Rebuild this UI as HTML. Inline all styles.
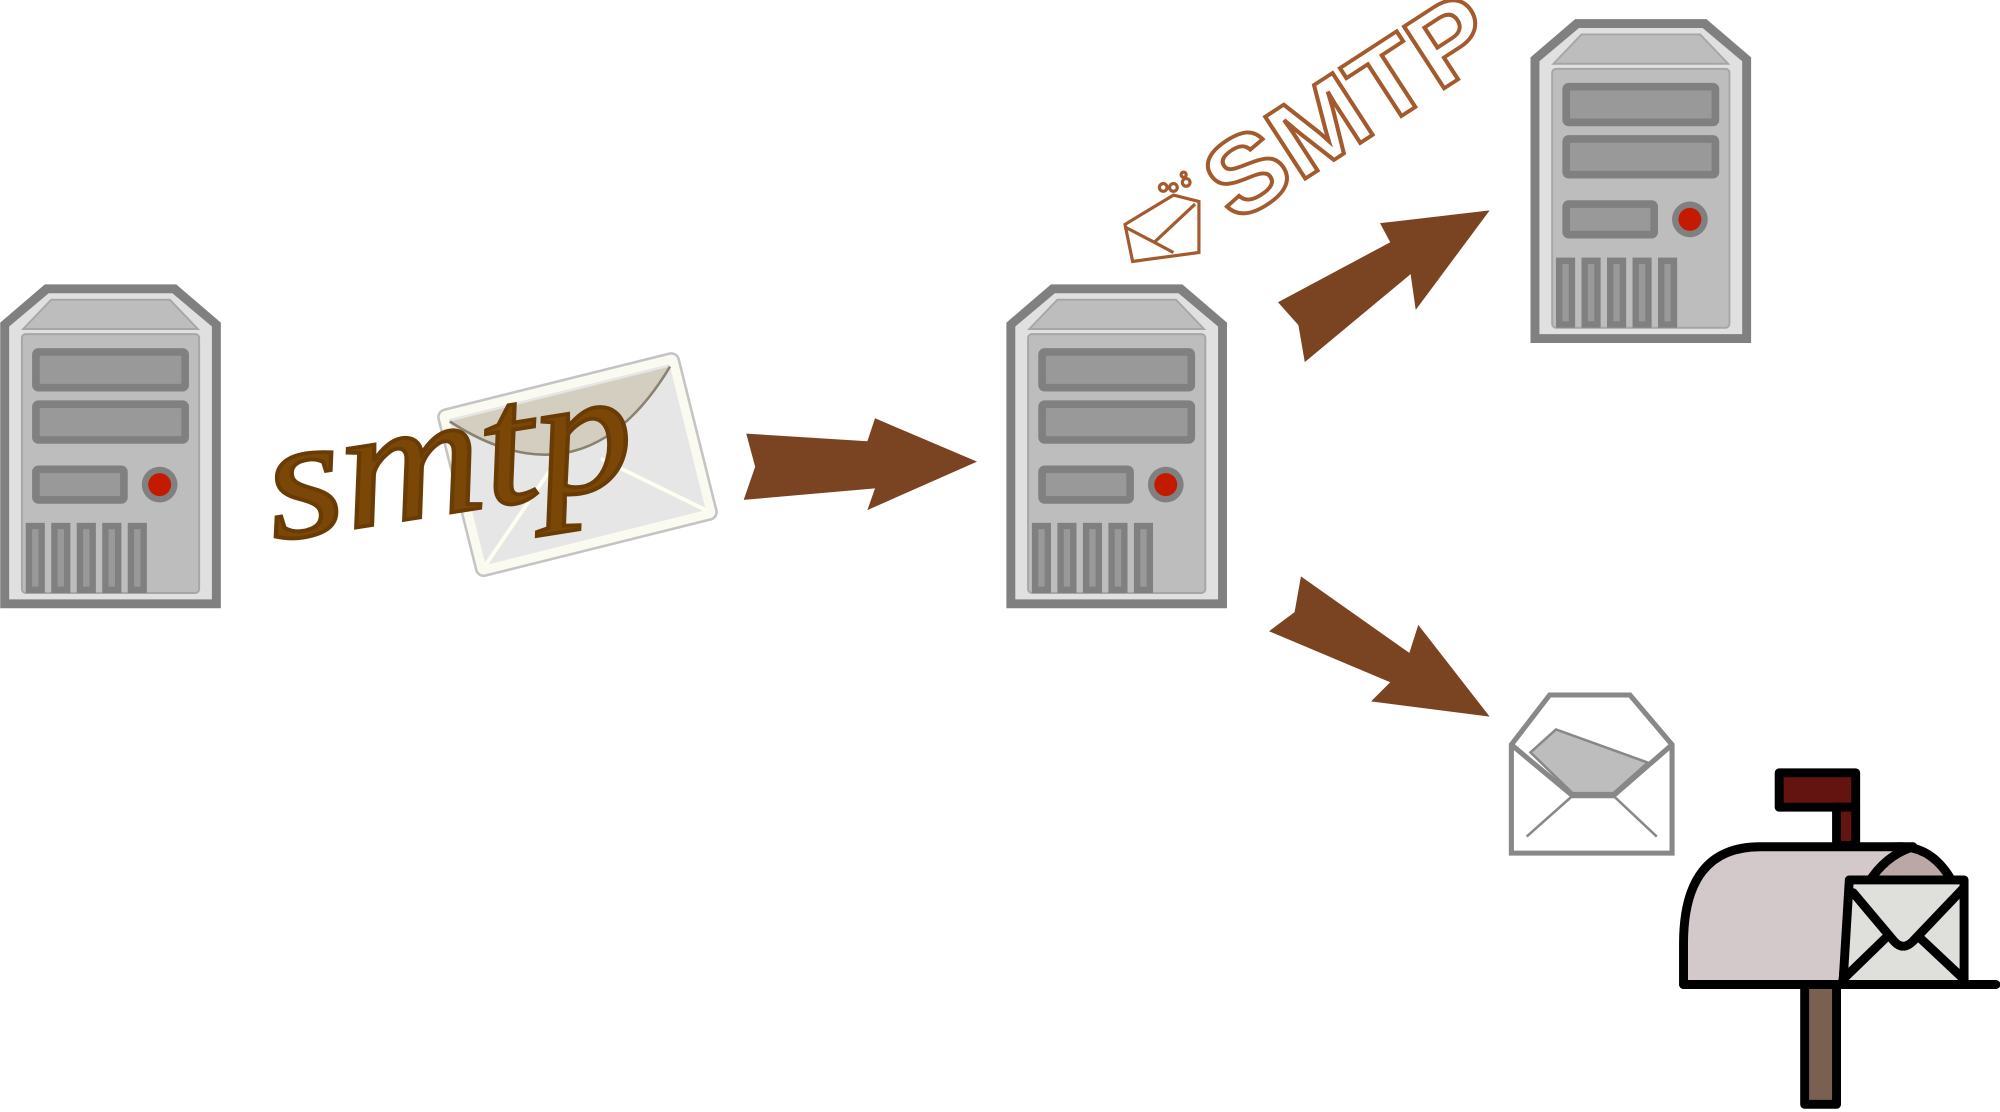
<!DOCTYPE html>
<html><head><style>html,body{margin:0;padding:0;background:#fff;width:2000px;height:1112px;overflow:hidden}</style></head>
<body>
<svg width="2000" height="1112" viewBox="0 0 1568 872" xmlns="http://www.w3.org/2000/svg">
<defs>
<g id="srv">
<polygon points="0,30 35,0 138,0 173,30 173,254 0,254" fill="#808080"/>
<polygon points="7,33 38,7 135,7 166,33 166,247 7,247" fill="#e0e0e0"/>
<polygon points="40,12 133,12 155,35 18,35" fill="#bdbdbd" stroke="#a6a6a6" stroke-width="1.5"/>
<rect x="17" y="39" width="139" height="203" rx="3" fill="#bdbdbd" stroke="#a6a6a6" stroke-width="1.5"/>
<rect x="25" y="50" width="123" height="34" rx="5" fill="#808080"/>
<rect x="31" y="56" width="111" height="22" fill="#999"/>
<rect x="25" y="91" width="123" height="34" rx="5" fill="#808080"/>
<rect x="31" y="97" width="111" height="22" fill="#999"/>
<rect x="25" y="142" width="75" height="30" rx="5" fill="#808080"/>
<rect x="31" y="148" width="63" height="18" fill="#999"/>
<circle cx="125" cy="157" r="14" fill="#808080"/>
<circle cx="125" cy="157" r="9" fill="#c41a00"/>
<g fill="#808080">
<rect x="20" y="187" width="15" height="55"/><rect x="40" y="187" width="15" height="55"/><rect x="60" y="187" width="15" height="55"/><rect x="80" y="187" width="15" height="55"/><rect x="100" y="187" width="15" height="55"/>
</g>
<g fill="#999">
<rect x="25" y="192" width="5" height="45"/><rect x="45" y="192" width="5" height="45"/><rect x="65" y="192" width="5" height="45"/><rect x="85" y="192" width="5" height="45"/><rect x="105" y="192" width="5" height="45"/>
</g>
</g>
</defs>
<use href="#srv" x="0" y="223"/>
<use href="#srv" x="789" y="223"/>
<use href="#srv" x="1200" y="15"/>

<g transform="rotate(-14 450 366)">
<rect x="356" y="298" width="194" height="134" rx="6" fill="#fafaf0" stroke="#c4c4c4" stroke-width="2"/>
<rect x="364" y="306" width="178" height="118" fill="#e6e6e6"/>
<path d="M364,308 Q450,400 542,308" fill="#d4cec0" stroke="#8a8270" stroke-width="2"/>
<path d="M364,424 L430,365 M542,424 L472,365" stroke="#fdfdf0" stroke-width="3"/>
</g>
<text x="208" y="402" textLength="290" lengthAdjust="spacingAndGlyphs" transform="rotate(-9 350 370)" font-family="'Liberation Serif',serif" font-style="italic" font-size="135" fill="#7a4706" stroke="#6a3c05" stroke-width="3">smtp</text>

<g fill="#7a4422">
<polygon points="585,340 680,346 686,328 766,362 680,400 686,383 583,392 592,366"/>
<polygon points="1002,237 1090,190 1082,175 1168,165 1110,243 1106,215 1023,284 1018,255"/>
<polygon points="1020,452 1105,512 1112,490 1168,562 1075,550 1090,535 995,495 1015,480"/>
</g>

<text x="968" y="176" transform="rotate(-33 968 176)" textLength="250" lengthAdjust="spacingAndGlyphs" font-family="'Liberation Sans',sans-serif" font-size="84" font-weight="bold" fill="#fff" stroke="#a35a2c" stroke-width="3">SMTP</text>
<g fill="none" stroke="#a35a2c" stroke-width="2.5">
<polygon points="882,176 920,153 940,158 940,198 888,205"/>
<path d="M882,178 L905,190 L937,160 M905,190 L920,198"/>
<circle cx="912" cy="147" r="3"/><circle cx="920" cy="147" r="3"/><circle cx="930" cy="143" r="3"/><circle cx="928" cy="137" r="2"/>
</g>

<g stroke="#888" fill="none">
<polygon points="1185,584 1215,545 1278,545 1311,584 1311,669 1185,669" fill="#fff" stroke-width="4"/>
<polygon points="1220,572 1292,598 1265,622 1233,622 1200,590" fill="#bdbdbd" stroke-width="2"/>
<path d="M1185,584 L1233,624 L1265,624 L1311,584" stroke-width="4"/>
<path d="M1233,624 L1197,656 M1265,624 L1299,656" stroke-width="2"/>
</g>

<g stroke="#000" stroke-width="7" stroke-linejoin="round" stroke-linecap="round">
<rect x="1395" y="606" width="60" height="27" fill="#641410"/>
<rect x="1440" y="633" width="15" height="30" fill="#641410"/>
<rect x="1415" y="772" width="25" height="94" fill="#7a6050"/>
<path d="M1440,700 Q1460,664 1490,664 Q1515,664 1530,690 L1530,772 L1440,772 Z" fill="#bba8a6"/>
<path d="M1320,772 L1320,740 Q1320,664 1380,664 L1500,664 Q1450,680 1445,772 Z" fill="#d3c9ca"/>
<path d="M1445,772 L1450,690 L1540,690 L1540,772 Z" fill="#dfe0dc"/>
<path d="M1453,700 L1485,738 Q1492,746 1500,738 L1540,696 M1445,768 L1478,736 M1540,768 L1506,736" fill="none"/>
<line x1="1320" y1="772" x2="1565" y2="772"/>
</g>
</svg>
</body></html>
